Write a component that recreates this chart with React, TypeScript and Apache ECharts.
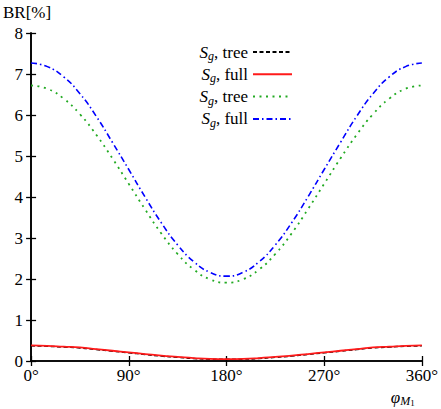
import React, { useEffect, useRef } from "react";
import * as echarts from "echarts";

const angles = [0, 15, 30, 45, 60, 75, 90, 105, 120, 135, 150, 165, 180, 195, 210, 225, 240, 255, 270, 285, 300, 315, 330, 345, 360];
const blackTree = [0.37, 0.36, 0.34, 0.32, 0.28, 0.24, 0.2, 0.16, 0.12, 0.09, 0.06, 0.045, 0.04, 0.045, 0.06, 0.09, 0.12, 0.16, 0.2, 0.24, 0.28, 0.32, 0.34, 0.36, 0.37];
const redFull = [0.38, 0.37, 0.35, 0.33, 0.29, 0.25, 0.21, 0.17, 0.13, 0.1, 0.07, 0.05, 0.045, 0.05, 0.07, 0.1, 0.13, 0.17, 0.21, 0.25, 0.29, 0.33, 0.35, 0.37, 0.38];
const greenTree = [6.72, 6.64, 6.4, 6.02, 5.52, 4.94, 4.32, 3.7, 3.11, 2.61, 2.23, 1.99, 1.91, 1.99, 2.23, 2.61, 3.11, 3.7, 4.32, 4.94, 5.52, 6.02, 6.4, 6.64, 6.72];
const blueFull = [7.27, 7.18, 6.93, 6.52, 5.97, 5.33, 4.67, 4.0, 3.37, 2.83, 2.42, 2.16, 2.07, 2.16, 2.42, 2.83, 3.37, 4.0, 4.67, 5.33, 5.97, 6.52, 6.93, 7.18, 7.27];
const seriesNames = ["s1", "s2", "s3", "s4"];
const legendLabels = ["tree", "full", "tree", "full"];

const FONT = "'Liberation Serif', serif";

export default function App() {
  const ref = useRef<HTMLDivElement>(null);
  useEffect(() => {
    if (!ref.current) return;
    const chart = echarts.init(ref.current, null, { renderer: "svg" });
    const mk = (vals: number[]) => angles.map((a, i) => [a, vals[i]]);
    const axisLineStyle = { color: "#000", width: 1.6 };
    const tick = { show: true, inside: true, length: 5, lineStyle: { color: "#000", width: 1.3 } };
    chart.setOption({
      animation: false,
      textStyle: { fontFamily: FONT },
      grid: { left: 29, right: 18, top: 33, bottom: 48 },
      legend: {
        orient: "vertical",
        right: 143,
        top: 38,
        align: "right",
        itemWidth: 39,
        itemHeight: 14,
        itemGap: 3.3,
        itemStyle: { opacity: 0 },
        data: seriesNames,
        formatter: (name: string) => {
          const i = seriesNames.indexOf(name);
          return "{it|S}{sub|g}{n|, " + legendLabels[i] + "}";
        },
        textStyle: {
          fontFamily: FONT,
          fontSize: 17,
          color: "#000",
          lineHeight: 18,
          rich: {
            it: { fontFamily: FONT, fontSize: 17, fontStyle: "italic", color: "#000" },
            sub: { fontFamily: FONT, fontSize: 12, fontStyle: "italic", color: "#000", padding: [8, 0, 0, 0] },
            n: { fontFamily: FONT, fontSize: 17, color: "#000" },
          },
        },
      },
      xAxis: [
        {
          type: "value",
          min: 0,
          max: 360,
          interval: 90,
          position: "bottom",
          axisLine: { show: true, lineStyle: axisLineStyle },
          axisTick: tick,
          splitLine: { show: false },
          axisLabel: { formatter: "{value}°", color: "#000", fontSize: 17, fontFamily: FONT, margin: 6 },
          name: "{i|φ}{s|M}{ss|1}",
          nameLocation: "end",
          nameGap: -31,
          nameTextStyle: {
            align: "left",
            verticalAlign: "top",
            padding: [26, 0, 0, 0],
            rich: {
              i: { fontFamily: FONT, fontSize: 17, fontStyle: "italic", color: "#000" },
              s: { fontFamily: FONT, fontSize: 12, fontStyle: "italic", color: "#000", padding: [7, 0, 0, 0] },
              ss: { fontFamily: FONT, fontSize: 9, color: "#000", padding: [11, 0, 0, 0] },
            },
          },
        },
        {
          type: "value",
          min: 0,
          max: 360,
          interval: 90,
          position: "top",
          axisLine: { show: true, lineStyle: axisLineStyle },
          axisTick: tick,
          splitLine: { show: false },
          axisLabel: { show: false },
        },
      ],
      yAxis: [
        {
          type: "value",
          min: 0,
          max: 8,
          interval: 1,
          position: "left",
          axisLine: { show: true, lineStyle: axisLineStyle },
          axisTick: tick,
          splitLine: { show: false },
          axisLabel: { color: "#000", fontSize: 17, fontFamily: FONT, margin: 8 },
          name: "BR[%]",
          nameLocation: "end",
          nameGap: 12,
          nameTextStyle: { color: "#000", fontSize: 17, fontFamily: FONT, align: "center", padding: [0, 8, 0, 0] },
        },
        {
          type: "value",
          min: 0,
          max: 8,
          interval: 1,
          position: "right",
          axisLine: { show: true, lineStyle: axisLineStyle },
          axisTick: tick,
          splitLine: { show: false },
          axisLabel: { show: false },
        },
      ],
      series: [
        {
          name: seriesNames[0],
          type: "line",
          data: mk(blackTree),
          smooth: true,
          showSymbol: false,
          symbol: "none",
          lineStyle: { color: "#000", width: 1.5, type: [4, 2.5] },
          itemStyle: { color: "#000" },
          z: 2,
        },
        {
          name: seriesNames[1],
          type: "line",
          data: mk(redFull),
          smooth: true,
          showSymbol: false,
          symbol: "none",
          lineStyle: { color: "#ff1a1a", width: 1.8, type: "solid" },
          itemStyle: { color: "#ff1a1a" },
          z: 3,
        },
        {
          name: seriesNames[2],
          type: "line",
          data: mk(greenTree),
          smooth: true,
          showSymbol: false,
          symbol: "none",
          lineStyle: { color: "#22aa22", width: 1.8, type: [2, 4.5] },
          itemStyle: { color: "#22aa22" },
          z: 4,
        },
        {
          name: seriesNames[3],
          type: "line",
          data: mk(blueFull),
          smooth: true,
          showSymbol: false,
          symbol: "none",
          lineStyle: { color: "#0000ff", width: 1.6, type: [6, 3, 1.5, 3] },
          itemStyle: { color: "#0000ff" },
          z: 5,
        },
      ],
    });
    return () => chart.dispose();
  }, []);
  return <div ref={ref} style={{ width: 441, height: 409, position: "absolute", left: 0, top: 0 }} />;
}
